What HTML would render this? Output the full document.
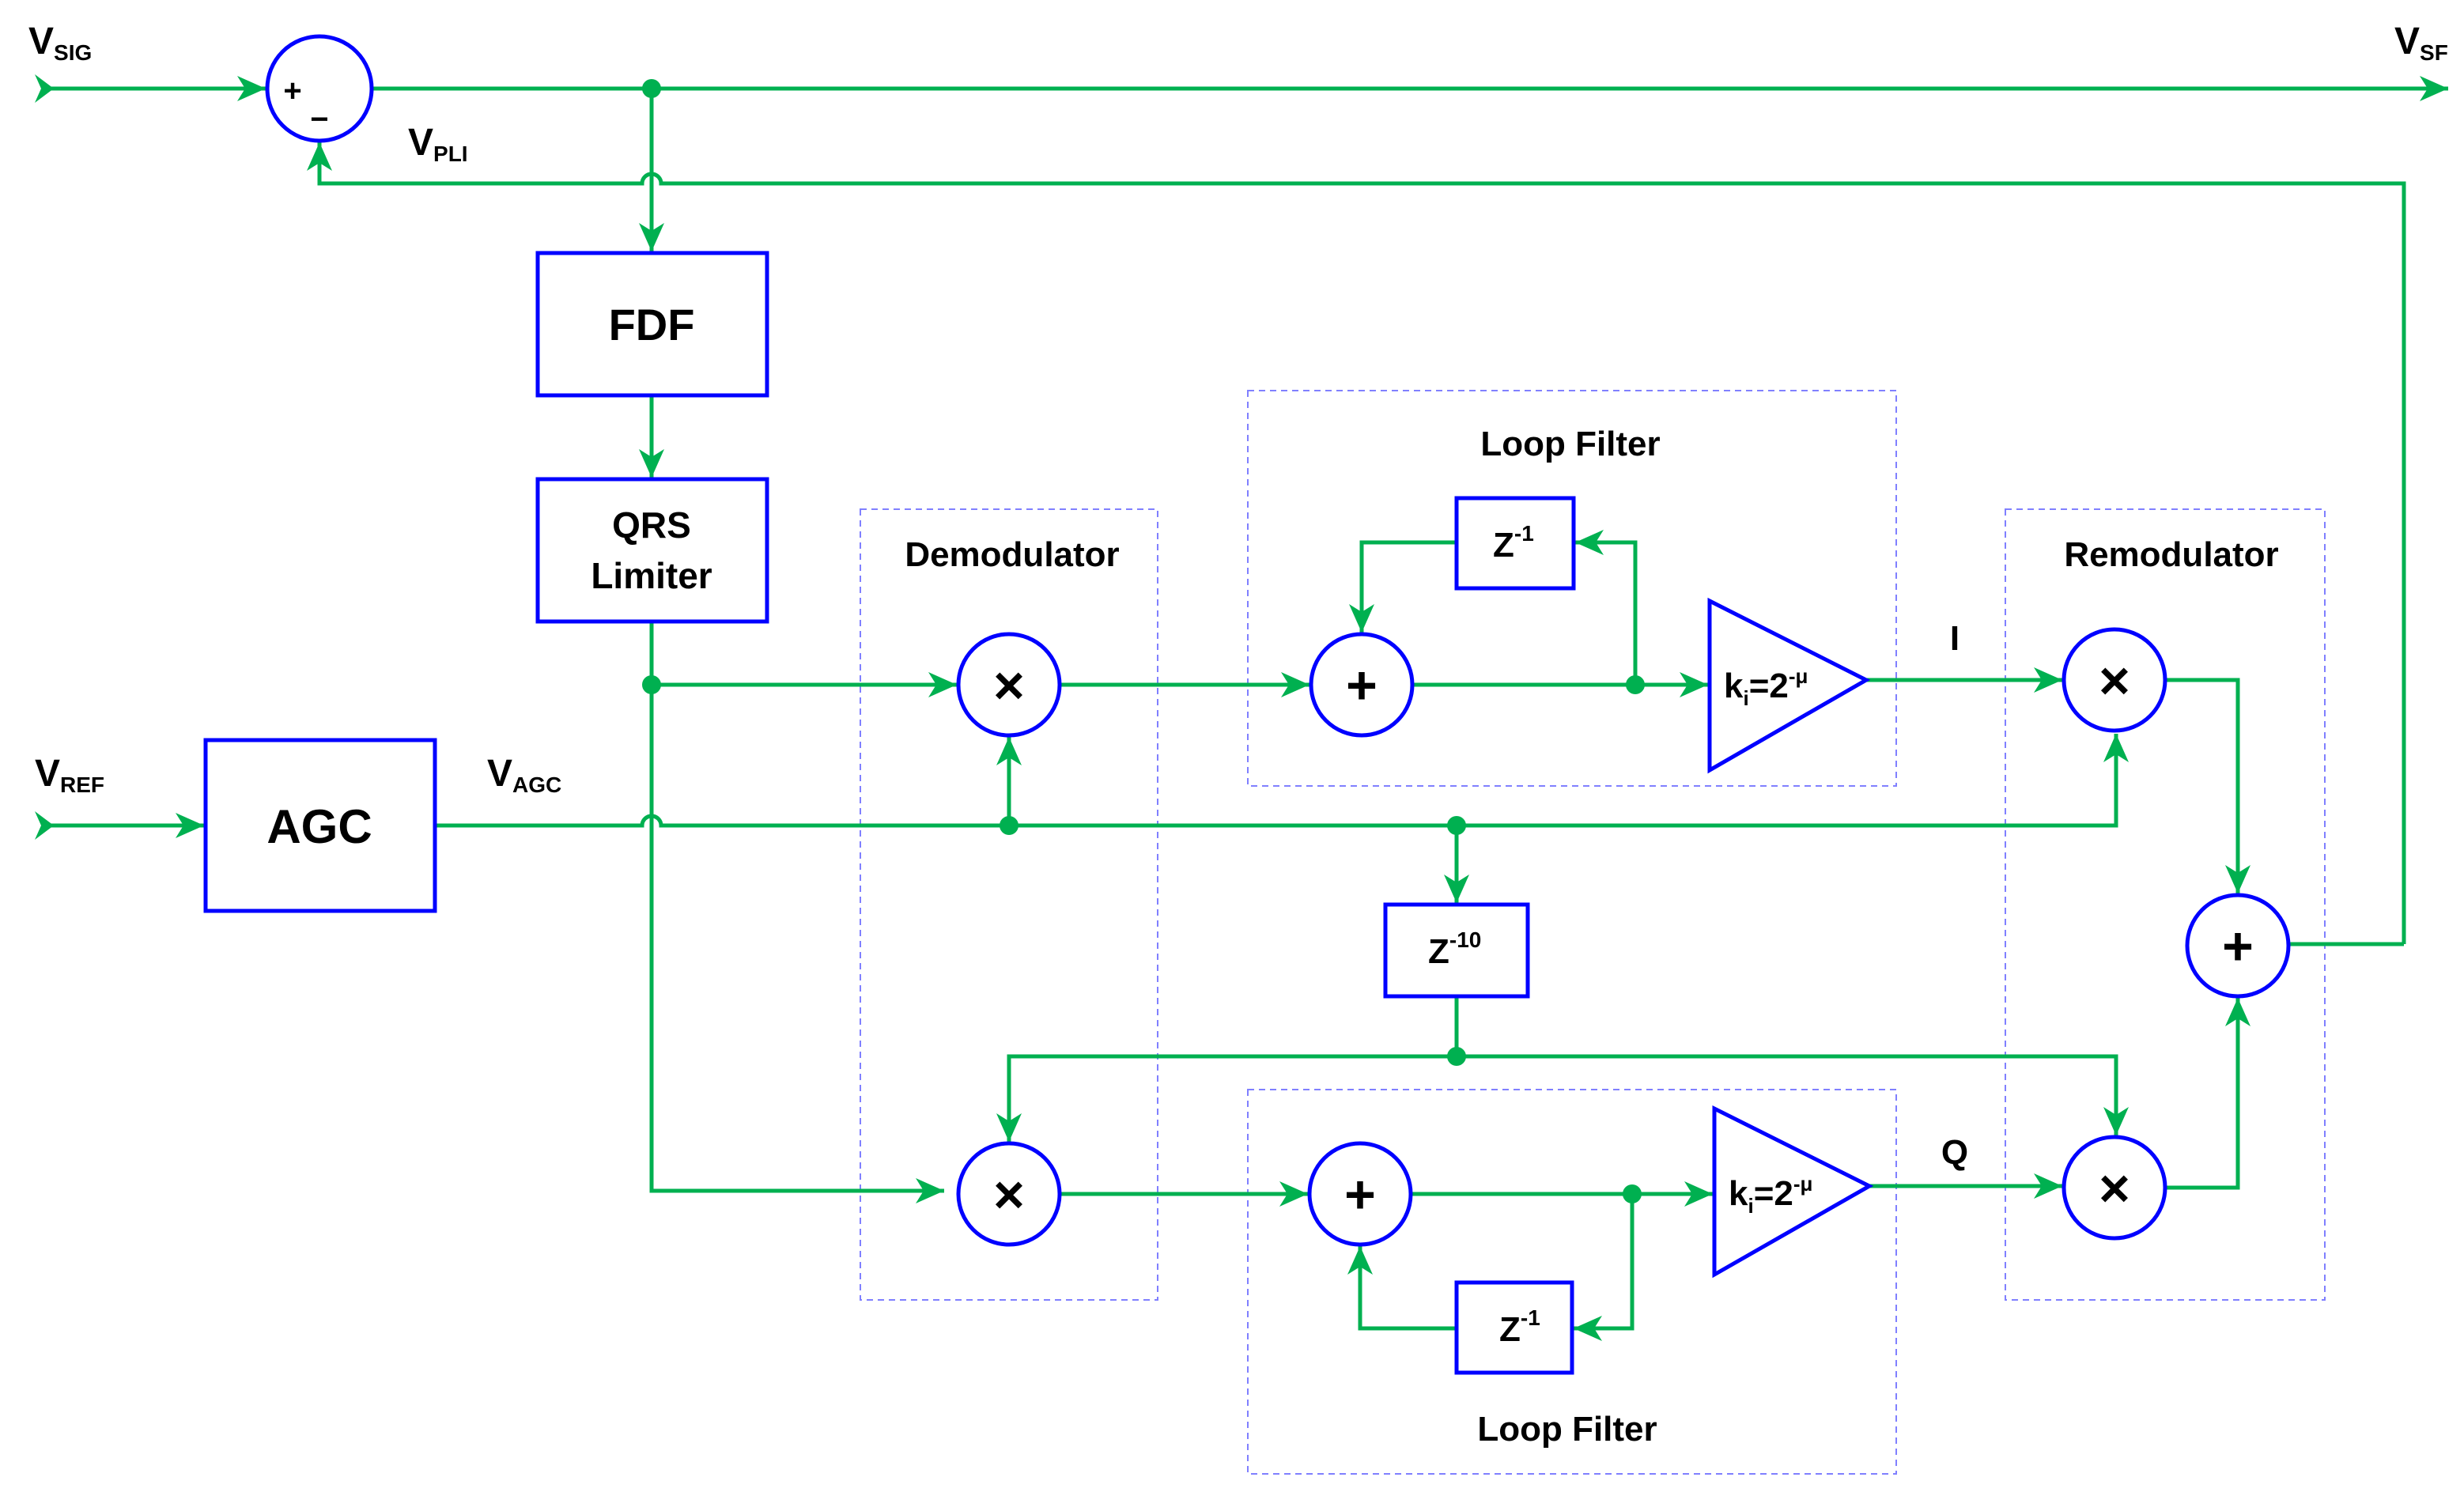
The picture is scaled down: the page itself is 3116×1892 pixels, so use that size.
<!DOCTYPE html>
<html><head><meta charset="utf-8"><style>
html,body{margin:0;padding:0;background:#fff;}
svg{display:block;}
text{font-family:"Liberation Sans",sans-serif;font-weight:bold;fill:#000;}
</style></head><body>
<svg width="3116" height="1892" viewBox="0 0 1558 946" preserveAspectRatio="none" xmlns="http://www.w3.org/2000/svg">
<defs>
<marker id="a" markerUnits="userSpaceOnUse" markerWidth="20" markerHeight="16" refX="18" refY="8" orient="auto">
<path d="M0,0 L18,8 L0,16 L5,8 Z" fill="#00b050"/>
</marker>
</defs>
<g fill="none" stroke="#8080ff" stroke-width="1" stroke-dasharray="4,3">
<rect x="544" y="322" width="188" height="500"/>
<rect x="789" y="247" width="410" height="250"/>
<rect x="789" y="689" width="410" height="243"/>
<rect x="1268" y="322" width="202" height="500"/>
</g>
<g fill="none" stroke="#00b050" stroke-width="2.5">
<path d="M28,56 L168,56" marker-end="url(#a)"/>
<path d="M235,56 L1548,56" marker-end="url(#a)"/>
<path d="M412,56 L412,159" marker-end="url(#a)"/>
<path d="M1520,597 L1520,116 L418,116 A6,6 0 0 0 406,116 L202,116 L202,90" marker-end="url(#a)"/>
<path d="M412,250 L412,302" marker-end="url(#a)"/>
<path d="M412,393 L412,753 L597,753" marker-end="url(#a)"/>
<path d="M412,433 L605,433" marker-end="url(#a)"/>
<path d="M28,522 L129,522" marker-end="url(#a)"/>
<path d="M275,522 L406,522 A6,6 0 0 1 418,522 L1338,522 L1338,464" marker-end="url(#a)"/>
<path d="M638,522 L638,466" marker-end="url(#a)"/>
<path d="M921,522 L921,571" marker-end="url(#a)"/>
<path d="M921,630 L921,668"/>
<path d="M921,668 L638,668 L638,722" marker-end="url(#a)"/>
<path d="M921,668 L1338,668 L1338,718" marker-end="url(#a)"/>
<path d="M670,433 L828,433" marker-end="url(#a)"/>
<path d="M893,433 L1080,433" marker-end="url(#a)"/>
<path d="M1034,433 L1034,343 L996,343" marker-end="url(#a)"/>
<path d="M921,343 L861,343 L861,400" marker-end="url(#a)"/>
<path d="M1180,430 L1304,430" marker-end="url(#a)"/>
<path d="M1369,430 L1415,430 L1415,565" marker-end="url(#a)"/>
<path d="M1447,597 L1520,597"/>
<path d="M670,755 L827,755" marker-end="url(#a)"/>
<path d="M892,755 L1083,755" marker-end="url(#a)"/>
<path d="M1032,755 L1032,840 L995,840" marker-end="url(#a)"/>
<path d="M921,840 L860,840 L860,788" marker-end="url(#a)"/>
<path d="M1182,750 L1304,750" marker-end="url(#a)"/>
<path d="M1369,751 L1415,751 L1415,631" marker-end="url(#a)"/>
</g>
<g fill="#00b050">
<path d="M22,47 L34,56 L22,65 L26,56 Z"/>
<path d="M22,513 L34,522 L22,531 L26,522 Z"/>
<circle cx="412" cy="56" r="6"/>
<circle cx="412" cy="433" r="6"/>
<circle cx="638" cy="522" r="6"/>
<circle cx="921" cy="522" r="6"/>
<circle cx="921" cy="668" r="6"/>
<circle cx="1034" cy="433" r="6"/>
<circle cx="1032" cy="755" r="6"/>
</g>
<g fill="#fff" stroke="#0000ff" stroke-width="2.5">
<circle cx="202" cy="56" r="33"/>
<rect x="340" y="160" width="145" height="90"/>
<rect x="340" y="303" width="145" height="90"/>
<rect x="130" y="468" width="145" height="108"/>
<circle cx="638" cy="433" r="32"/>
<circle cx="638" cy="755" r="32"/>
<circle cx="861" cy="433" r="32"/>
<circle cx="860" cy="755" r="32"/>
<rect x="921" y="315" width="74" height="57"/>
<rect x="921" y="811" width="73" height="57"/>
<rect x="876" y="572" width="90" height="58"/>
<path d="M1081,380 L1081,487 L1180,430 Z"/>
<path d="M1084,701 L1084,806 L1182,750 Z"/>
<circle cx="1337" cy="430" r="32"/>
<circle cx="1337" cy="751" r="32"/>
<circle cx="1415" cy="598" r="32"/>
</g>
<g font-size="22">
<text x="18" y="34" font-size="24">V<tspan font-size="14" dy="4">SIG</tspan></text>
<text x="1514" y="34" font-size="24">V<tspan font-size="14" dy="4">SF</tspan></text>
<text x="258" y="98" font-size="24">V<tspan font-size="14" dy="4">PLI</tspan></text>
<text x="22" y="497" font-size="24">V<tspan font-size="14" dy="4">REF</tspan></text>
<text x="308" y="497" font-size="24">V<tspan font-size="14" dy="4">AGC</tspan></text>
<text x="412" y="215" font-size="28" text-anchor="middle">FDF</text>
<text x="412" y="340" font-size="23" text-anchor="middle">QRS</text>
<text x="412" y="372" font-size="23" text-anchor="middle">Limiter</text>
<text x="202" y="533" font-size="30" text-anchor="middle">AGC</text>
<text x="640" y="358" text-anchor="middle">Demodulator</text>
<text x="993" y="288" text-anchor="middle">Loop Filter</text>
<text x="991" y="911" text-anchor="middle">Loop Filter</text>
<text x="1373" y="358" text-anchor="middle">Remodulator</text>
<text x="1236" y="411" text-anchor="middle">I</text>
<text x="1236" y="736" text-anchor="middle">Q</text>
<text x="944" y="352">Z<tspan font-size="14" dy="-10">-1</tspan></text>
<text x="948" y="848">Z<tspan font-size="14" dy="-10">-1</tspan></text>
<text x="903" y="609">Z<tspan font-size="14" dy="-10">-10</tspan></text>
<text x="1090" y="441">k<tspan font-size="13" dy="5">i</tspan><tspan dy="-5">=2</tspan><tspan font-size="13" dy="-9">-μ</tspan></text>
<text x="1093" y="762">k<tspan font-size="13" dy="5">i</tspan><tspan dy="-5">=2</tspan><tspan font-size="13" dy="-9">-μ</tspan></text>
</g>
<g font-size="20">
<text x="185" y="64" text-anchor="middle">+</text>
<text x="202" y="82" text-anchor="middle">−</text>
</g>
<g font-size="34" text-anchor="middle">
<text x="638" y="445">×</text>
<text x="638" y="767">×</text>
<text x="1337" y="442">×</text>
<text x="1337" y="763">×</text>
<text x="861" y="445">+</text>
<text x="860" y="767">+</text>
<text x="1415" y="610">+</text>
</g>
</svg>
</body></html>
